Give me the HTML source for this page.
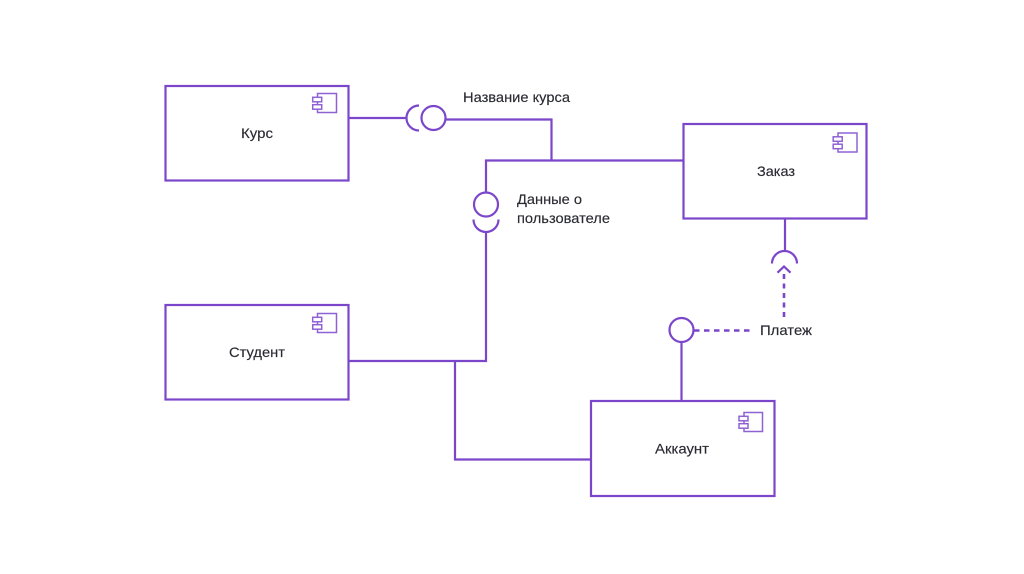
<!DOCTYPE html>
<html>
<head>
<meta charset="utf-8">
<style>
html,body{margin:0;padding:0;background:#fff;width:1024px;height:574px;overflow:hidden}
svg{display:block}
text{font-family:"Liberation Sans","DejaVu Sans",sans-serif;font-size:14px;fill:#2a2a33;stroke:#2a2a33;stroke-width:.15}
.s{fill:none;stroke:#7b46ca;stroke-width:2.2}
.d{fill:none;stroke:#7b46ca;stroke-width:2.6}
.b{fill:#fff;stroke:#7b46ca;stroke-width:2.2}
.i{fill:#fff;stroke:#8f62d4;stroke-width:1.5}
</style>
</head>
<body>
<svg width="1024" height="574" viewBox="0 0 1024 574" xmlns="http://www.w3.org/2000/svg">
<rect width="1024" height="574" fill="#fff"/>

<!-- connectors -->
<path class="s" d="M349 118H407"/>
<path class="s" d="M419 105.500A12.500 12.500 0 0 0 419 130.500"/>
<circle class="s" cx="433.500" cy="118" r="12"/>
<path class="s" d="M445.500 119.500H551.500V160.500"/>
<path class="s" d="M486 192V160.500H683"/>
<circle class="s" cx="486" cy="204.500" r="12"/>
<path class="s" d="M473.500 219.500A12.500 12.500 0 0 0 498.500 219.500"/>
<path class="s" d="M486 232V361H349"/>
<path class="s" d="M455 361V459.500H591"/>
<path class="s" d="M785 219V251"/>
<path class="s" d="M772 263.500A12.500 12.500 0 0 1 797 263.500"/>
<path class="s" d="M777.500 272.700L784 266.500L790.500 272.700"/>
<path class="d" stroke-dasharray="5 4.500" d="M784 317V270"/>
<circle class="s" cx="681.500" cy="330" r="12"/>
<path class="s" d="M681.500 342V401"/>
<path class="d" stroke-dasharray="5.500 4.500" d="M694 330.500H752"/>

<!-- Курс -->
<rect class="b" x="165.500" y="86" width="183" height="94.500"/>
<rect class="i" x="317.500" y="93.500" width="19" height="19"/>
<rect class="i" x="312.700" y="97.300" width="9" height="4.500"/>
<rect class="i" x="312.700" y="104.700" width="9" height="4.500"/>
<text x="241" y="138" textLength="32" lengthAdjust="spacingAndGlyphs">Курс</text>

<!-- Заказ -->
<rect class="b" x="683.500" y="124" width="183" height="94.500"/>
<rect class="i" x="838" y="133" width="19" height="19"/>
<rect class="i" x="833.200" y="136.800" width="9" height="4.500"/>
<rect class="i" x="833.200" y="144.200" width="9" height="4.500"/>
<text x="757" y="176" textLength="38" lengthAdjust="spacingAndGlyphs">Заказ</text>

<!-- Студент -->
<rect class="b" x="165.500" y="305" width="183" height="94.500"/>
<rect class="i" x="317.500" y="313.500" width="19" height="19"/>
<rect class="i" x="312.700" y="317.300" width="9" height="4.500"/>
<rect class="i" x="312.700" y="324.700" width="9" height="4.500"/>
<text x="229" y="357" textLength="56" lengthAdjust="spacingAndGlyphs">Студент</text>

<!-- Аккаунт -->
<rect class="b" x="591" y="401" width="183.500" height="95"/>
<rect class="i" x="744" y="412.500" width="18.500" height="19"/>
<rect class="i" x="739" y="416.300" width="9" height="4.500"/>
<rect class="i" x="739" y="423.700" width="9" height="4.500"/>
<text x="655" y="453.500" textLength="54" lengthAdjust="spacingAndGlyphs">Аккаунт</text>

<!-- labels -->
<text x="463" y="102" textLength="107" lengthAdjust="spacingAndGlyphs">Название курса</text>
<text x="517" y="204" textLength="65" lengthAdjust="spacingAndGlyphs">Данные о</text>
<text x="517" y="223" textLength="93" lengthAdjust="spacingAndGlyphs">пользователе</text>
<text x="760" y="335" textLength="52" lengthAdjust="spacingAndGlyphs">Платеж</text>
</svg>
</body>
</html>
